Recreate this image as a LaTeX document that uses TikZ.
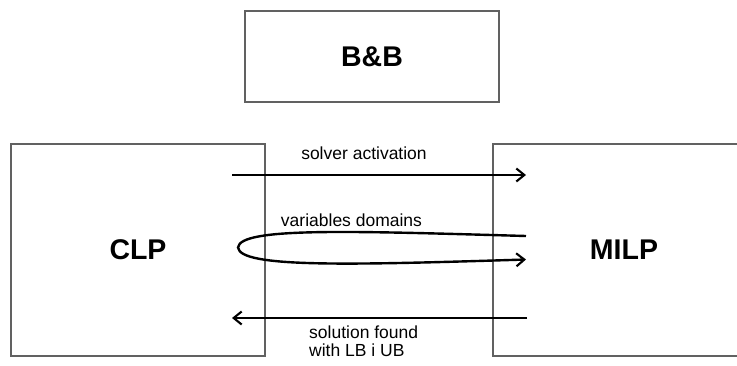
\documentclass[tikz,border=0pt]{standalone}
\usepackage{fontspec}
\setmainfont{Liberation Sans}
\usetikzlibrary{arrows.meta}
\begin{document}
\begin{tikzpicture}[x=1pt,y=-1pt,
  block/.style={draw=black!62,line width=1.4pt,inner sep=0pt,
    font=\fontsize{28.5}{32}\selectfont\bfseries},
  flow/.style={line width=2.4pt,-{Straight Barb[length=8pt,width=13pt,line width=2.1pt]}},
  lbl/.style={inner sep=0pt,font=\fontsize{17.5}{17.5}\selectfont}]
\useasboundingbox (0,0) rectangle (737,365);
\clip (0,0) rectangle (737,365);

% the three solver blocks
\node[block,minimum width=254pt,minimum height=91pt] (bb) at (372,56.5) {B\&B};
\node[block,minimum width=254pt,minimum height=212pt] (clp) at (138,250) {CLP};
\node[block,minimum width=262pt,minimum height=212pt] (milp) at (624,250) {MILP};

% connector end points
\coordinate (saS) at (232,175);
\coordinate (saE) at (526,175);
\coordinate (vdS) at (526,236);
\coordinate (vdL) at (238,247.5);
\coordinate (vdE) at (526,259.5);
\coordinate (sfS) at (527,318);
\coordinate (sfE) at (232,318);

% solver activation
\draw[flow] (saS) -- (saE);
\node[lbl] (tsa) at (364,153) {solver activation};

% variables domains: loop back to MILP
\draw[flow] (vdS) .. controls (350,231) and (240,227) .. (vdL)
  .. controls (240,268) and (350,265) .. (vdE);
\node[lbl] (tvd) at (351.5,220) {variables domains};

% solution found
\draw[flow] (sfS) -- (sfE);
\node[lbl,anchor=north west,align=left] (tsf) at (309,326) {solution found\\with LB i UB};
\end{tikzpicture}
\end{document}
